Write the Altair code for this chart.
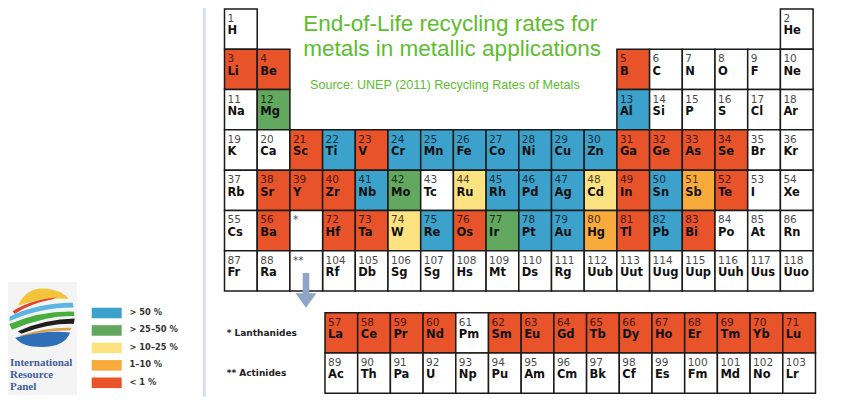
import altair as alt
import pandas as pd

# ---------------- data ----------------
symbols = ["H", "He", "Li", "Be", "B", "C", "N", "O", "F", "Ne",
           "Na", "Mg", "Al", "Si", "P", "S", "Cl", "Ar",
           "K", "Ca", "Sc", "Ti", "V", "Cr", "Mn", "Fe", "Co", "Ni", "Cu", "Zn", "Ga", "Ge", "As", "Se", "Br", "Kr",
           "Rb", "Sr", "Y", "Zr", "Nb", "Mo", "Tc", "Ru", "Rh", "Pd", "Ag", "Cd", "In", "Sn", "Sb", "Te", "I", "Xe",
           "Cs", "Ba", "La", "Ce", "Pr", "Nd", "Pm", "Sm", "Eu", "Gd", "Tb", "Dy", "Ho", "Er", "Tm", "Yb", "Lu",
           "Hf", "Ta", "W", "Re", "Os", "Ir", "Pt", "Au", "Hg", "Tl", "Pb", "Bi", "Po", "At", "Rn",
           "Fr", "Ra", "Ac", "Th", "Pa", "U", "Np", "Pu", "Am", "Cm", "Bk", "Cf", "Es", "Fm", "Md", "No", "Lr",
           "Rf", "Db", "Sg", "Sg", "Hs", "Mt", "Ds", "Rg", "Uub", "Uut", "Uug", "Uup", "Uuh", "Uus", "Uuo"]

# A: >50%  B: >25-50%  C: >10-25%  D: 1-10%  E: <1%  -: no data
rate_codes = (
    ["-", "-"]
    + ["E", "E", "E", "-", "-", "-", "-", "-"]
    + ["-", "B", "A", "-", "-", "-", "-", "-"]
    + ["-", "-", "E", "A", "E", "A", "A", "A", "A", "A", "A", "A", "E", "E", "E", "E", "-", "-"]
    + ["-", "E", "E", "E", "A", "B", "-", "C", "A", "A", "A", "C", "E", "A", "D", "E", "-", "-"]
    + ["-", "E"]
    + ["E", "E", "E", "E", "-", "E", "E", "E", "E", "E", "E", "E", "E", "E", "E"]
    + ["E", "E", "C", "A", "E", "B", "A", "A", "D", "E", "A", "E", "-", "-", "-"]
    + ["-", "-"]
    + ["-", "-", "-", "-", "-", "-", "-", "-", "-", "-", "-", "-", "-", "-", "-"]
    + ["-", "-", "-", "-", "-", "-", "-", "-", "-", "-", "-", "-", "-", "-", "-"]
)

rate_keys = ["A", "B", "C", "D", "E"]
rate_labels = ["> 50 %", "> 25–50 %", "> 10–25 %", "1–10 %", "< 1 %"]
rate_colors = ["#3CA2CB", "#62A85F", "#FDE282", "#F8AA3B", "#E8532A"]

placeholder_marks = ["*", "**"]

title_lines = ["End-of-Life recycling rates for", "metals in metallic applications"]
source_text = "Source: UNEP (2011) Recycling Rates of Metals"
series_labels = ["* Lanthanides", "** Actinides"]
logo_lines = ["International", "Resource", "Panel"]

# ---------------- layout helpers ----------------
F_COL = 4.073      # left edge of the f-block, in column units
F_ROW = 8.538      # top of the lanthanide row, in period units


def place(z):
    if z <= 2:
        return (1 if z == 1 else 18), 1
    if z <= 10:
        return (z - 2 if z <= 4 else z + 8), 2
    if z <= 18:
        return (z - 10 if z <= 12 else z), 3
    if z <= 36:
        return z - 18, 4
    if z <= 54:
        return z - 36, 5
    if 57 <= z <= 71:
        return F_COL + (z - 57), F_ROW
    if 89 <= z <= 103:
        return F_COL + (z - 89), F_ROW + 1
    if z <= 86:
        return (z - 54 if z <= 56 else z - 68), 6
    return (z - 86 if z <= 88 else z - 100), 7


label_of = dict(zip(rate_keys, rate_labels))
rows = []
for i, (sym, code) in enumerate(zip(symbols, rate_codes)):
    z = i + 1
    c, r = place(z)
    rows.append({"num": str(z), "sym": sym, "rate": label_of.get(code, "none"),
                 "c": c, "c2": c + 1, "r": r, "r2": r + 1})
for k, mark in enumerate(placeholder_marks):
    rows.append({"num": mark, "sym": "", "rate": "none",
                 "c": 3, "c2": 4, "r": 6 + k, "r2": 7 + k})
cells = pd.DataFrame(rows)

legend_df = pd.DataFrame({"label": rate_labels, "i": list(range(len(rate_labels)))})
one = pd.DataFrame({"k": [0]})

# ---------------- scales ----------------
x_scale = alt.Scale(domain=[-5.6208, 19.8838], nice=False, zero=False)
y_scale = alt.Scale(domain=[0.97518, 10.6302], nice=False, zero=False, reverse=True)
color_scale = alt.Scale(domain=rate_labels + ["none"], range=rate_colors + ["#FFFFFF"])

X = lambda f: alt.X(f, scale=x_scale, axis=None)
Y = lambda f: alt.Y(f, scale=y_scale, axis=None)

# ---------------- layers ----------------
logo_bg = alt.Chart(one).mark_rect(color="#F4F4F4").encode(
    x=alt.value(0), x2=alt.value(69), y=alt.value(274), y2=alt.value(387))

divider = alt.Chart(one).mark_rule(color="#D7E0EC", strokeWidth=3).encode(
    x=alt.value(196.3), y=alt.value(0), y2=alt.value(389))

cell_rects = alt.Chart(cells).mark_rect(stroke="#1A1A1A", strokeWidth=1.5).encode(
    x=X("c:Q"), x2="c2:Q", y=Y("r:Q"), y2="r2:Q",
    color=alt.Color("rate:N", scale=color_scale, legend=None))

num_text = alt.Chart(cells).mark_text(
    align="left", baseline="alphabetic", dx=3, dy=13,
    font="DejaVu Sans", fontSize=10.5, color="#000000", opacity=0.72).encode(
    x=X("c:Q"), y=Y("r:Q"), text="num:N")

sym_text = alt.Chart(cells).mark_text(
    align="left", baseline="alphabetic", dx=3, dy=25.5,
    font="DejaVu Sans", fontSize=11.5, fontWeight="bold", color="#111111").encode(
    x=X("c:Q"), y=Y("r:Q"), text="sym:N")

arrow_shaft = alt.Chart(one).mark_rect(color="#8EA6C6").encode(
    x=alt.value(294.7), x2=alt.value(301.3), y=alt.value(265), y2=alt.value(287))
arrow_head = alt.Chart(one).mark_point(
    shape="M-1,-0.7L1,-0.7L0,0.7Z", filled=True, size=441, color="#8EA6C6",
    opacity=1, strokeWidth=0).encode(x=alt.value(298), y=alt.value(292.5))

title = alt.Chart(one).mark_text(
    align="left", baseline="alphabetic", font="Liberation Sans", fontSize=22.5,
    color="#5DBD2E", lineHeight=25.8).encode(
    x=alt.value(295.3), y=alt.value(22.5), text=alt.value(title_lines))

source = alt.Chart(one).mark_text(
    align="left", baseline="alphabetic", font="Liberation Sans", fontSize=12.6,
    color="#5DBD2E").encode(x=alt.value(302), y=alt.value(81), text=alt.value(source_text))

flabels = alt.Chart(pd.DataFrame({"t": series_labels, "j": [0, 1]})).transform_calculate(
    yy=f"{F_ROW} + 0.5 + datum.j").mark_text(
    align="left", baseline="middle", font="DejaVu Sans", fontSize=9, fontWeight="bold",
    color="#222222").encode(x=alt.value(218.7), y=Y("yy:Q"), text="t:N")

legend_rects = alt.Chart(legend_df).transform_calculate(
    ly="1 + (299.7 + datum.i * 17.45 - 1) / 40.29",
    ly2="1 + (310.3 + datum.i * 17.45 - 1) / 40.29").mark_rect().encode(
    x=alt.value(83.7), x2=alt.value(113.7), y=Y("ly:Q"), y2="ly2:Q",
    color=alt.Color("label:N", scale=color_scale, legend=None))

legend_text = alt.Chart(legend_df).transform_calculate(
    lc="1 + (305 + datum.i * 17.45 - 1) / 40.29").mark_text(
    align="left", baseline="middle", font="DejaVu Sans", fontSize=8.3, fontWeight="bold",
    color="#333333").encode(x=alt.value(121.5), y=Y("lc:Q"), text="label:N")

# logo swooshes (decorative)
logo_bands = [
    ("M-0.72,-0.36 Q-0.45,-0.92 0.1,-0.87 Q0.6,-0.83 0.82,-0.56 Q0.1,-0.62 -0.72,-0.36Z", "#F3C43A"),
    ("M-0.88,-0.18 Q-0.4,-0.52 0.45,-0.6 L0.3,-0.54 Q-0.35,-0.42 -0.82,-0.1Z", "#E2452B"),
    ("M-0.97,-0.02 Q-0.2,-0.42 0.94,-0.44 L0.97,-0.3 Q-0.1,-0.3 -0.98,0.12Z", "#5BB6E3"),
    ("M-0.98,0.2 Q0,-0.2 0.98,-0.17 L0.99,-0.04 Q0.1,-0.06 -0.9,0.38Z", "#45AE3F"),
    ("M-0.72,0.42 Q0.1,0.06 1.0,0.04 L0.97,0.2 Q0.2,0.18 -0.62,0.5Z", "#1E1E1E"),
    ("M-0.66,0.56 Q0.1,0.3 0.9,0.32 L0.86,0.4 Q0.1,0.38 -0.6,0.6Z", "#E0A04A"),
    ("M-0.8,0.62 Q0.1,0.38 0.86,0.46 Q0.7,0.9 0,0.9 Q-0.6,0.9 -0.8,0.62Z", "#2E6FB8"),
]
logo_layers = [
    alt.Chart(one).mark_point(shape=p, filled=True, size=4356, color=col,
                              opacity=1, strokeWidth=0).encode(
        x=alt.value(33.7), y=alt.value(309.3))
    for p, col in logo_bands
]

logo_text = alt.Chart(one).mark_text(
    align="left", baseline="alphabetic", font="Liberation Serif", fontSize=11,
    fontWeight="bold", color="#3F5E9E", lineHeight=12).encode(
    x=alt.value(2), y=alt.value(358), text=alt.value(logo_lines))

chart = alt.layer(
    logo_bg, divider, cell_rects, num_text, sym_text, arrow_shaft, arrow_head,
    title, source, flabels, legend_rects, legend_text, *logo_layers, logo_text
).properties(
    width=834, height=389, padding=0,
    autosize=alt.AutoSizeParams(type="none"),
    background="#FFFFFF",
).configure_view(stroke=None)

chart.save("out.html", embed_options={"renderer": "svg", "actions": False})
